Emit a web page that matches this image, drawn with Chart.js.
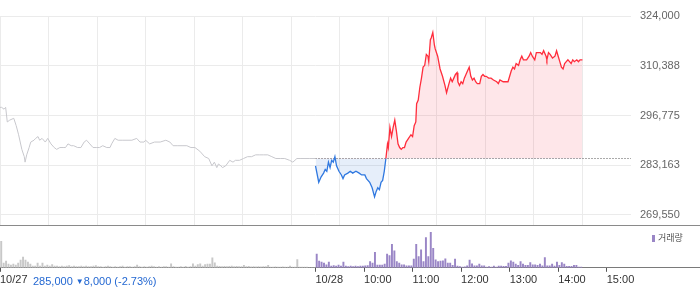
<!DOCTYPE html>
<html>
<head>
<meta charset="utf-8">
<script src="https://cdn.jsdelivr.net/npm/chart.js@4.4.1/dist/chart.umd.min.js"></script>
<style>
  html, body { margin: 0; padding: 0; background: #fff; }
  #wrap { position: relative; width: 700px; height: 289px; font-family: "Liberation Sans", Arial, sans-serif; }
  #priceBox { position: absolute; left: 0; top: 0; width: 700px; height: 225px; }
  #volBox { position: absolute; left: 0; top: 225px; width: 700px; height: 64px; border-top: 1px solid #8a8a8a; box-sizing: border-box; }
  #info { position: absolute; left: 33px; top: 275px; font-size: 11px; line-height: 13px; color: #2468d2; white-space: nowrap; }
  #info .tri { font-size: 8px; position: relative; top: -1px; }
  #legend { position: absolute; left: 652px; top: 233px; font-size: 9px; line-height: 10px; color: #555; font-family: "Noto Sans CJK KR", sans-serif; }
  #legend i { display: inline-block; width: 3px; height: 7px; background: #9a86c6; margin-right: 3px; vertical-align: -1px; }
</style>
</head>
<body>
<div id="wrap">
  <div id="priceBox"><canvas id="priceChart"></canvas></div>
  <div id="volBox"><canvas id="volumeChart"></canvas></div>
  <div id="info"></div>
  <div id="legend"><i></i>거래량</div>
</div>
<script>
// ---------- Data ----------
const prevClose = 285000;      // 10/27 close
const prevChange = -8000;
const prevChangePct = -2.73;

// price ticks on the right axis
const yTicks = [269550, 283163, 296775, 310388, 324000];

// bottom axis ticks (minutes after 10/27 09:00) and their labels
const tickMinutes = [0, 390, 450, 510, 570, 630, 690, 750];
const tickLabels = ['10/27', '10/28', '10:00', '11:00', '12:00', '13:00', '14:00', '15:00'];

// 10/27: minutes after 09:00 and price
const prevMinutes = [0, 2, 5, 7, 9, 12, 17, 20, 23, 27, 30, 31, 33, 36, 38, 42, 44, 47, 49, 52,
  56, 59, 63, 67, 70, 74, 78, 81, 84, 88, 91, 96, 100, 104, 107, 111, 115, 119, 123, 127,
  132, 136, 138, 142, 146, 151, 157, 163, 169, 173, 178, 180, 185, 191, 198, 205, 210, 214, 219, 225,
  231, 236, 241, 247, 253, 258, 262, 265, 268, 270, 273, 275, 279, 284, 288, 291, 296, 301, 306, 311,
  316, 321, 326, 331, 336, 341, 347, 352, 358, 362, 367, 372, 377, 383, 390];
const prevPrices = [299000, 299000, 298500, 299000, 295000, 295500, 296000, 294000, 291500, 287500,
  285500, 284000, 286000, 288000, 289500, 290000, 290500, 291000, 290000, 290500,
  289500, 290500, 289000, 288000, 287500, 288000, 288000, 288000, 289000, 288500,
  288500, 288000, 288000, 289500, 290000, 289000, 288000, 288000, 288000, 288500,
  288000, 288000, 289000, 290500, 290000, 290000, 290000, 290000, 290500, 289500,
  289500, 290000, 289000, 289500, 289500, 290000, 289500, 288500, 288500, 288500,
  288500, 288000, 288000, 287000, 285500, 285000, 283000, 284000, 282500, 283500,
  283000, 282500, 283000, 284500, 284000, 284500, 284500, 285000, 285500, 285500,
  286000, 286000, 286000, 286000, 285500, 285000, 285000, 285000, 284500, 284000,
  285000, 285000, 285000, 285000, 285000];

// 10/28: minutes after 09:00 and price
const todayMinutes = [0, 4, 7, 10, 12, 14, 16, 18, 20, 22, 24, 26, 29, 32, 34, 36, 40, 43, 46, 50,
  54, 57, 61, 63, 67, 70, 73, 75, 77, 79, 81, 83, 85, 87, 89, 90, 92, 94, 96, 98,
  100, 102, 104, 106, 108, 110, 112, 115, 118, 120, 122, 124, 125, 127, 129, 131, 133, 135, 137, 139,
  140, 142, 143, 145, 147, 148, 151, 154, 157, 160, 162, 165, 167, 169, 171, 173, 175, 176, 178, 180,
  182, 184, 186, 188, 190, 192, 194, 196, 198, 200, 203, 205, 207, 209, 211, 214, 217, 220, 224, 226,
  228, 232, 235, 238, 240, 242, 244, 246, 248, 251, 253, 255, 257, 261, 264, 266, 268, 271, 273, 276,
  278, 280, 282, 285, 286, 288, 290, 293, 296, 298, 300, 302, 304, 306, 308, 310, 312, 314, 316, 318,
  320, 323, 325, 327, 330];
const todayPrices = [283000, 278500, 280000, 281000, 282000, 281500, 284000, 282500, 284500, 284000,
  285500, 283000, 281500, 280500, 279500, 280500, 281000, 281500, 281000, 281500,
  281000, 280500, 280500, 279500, 278500, 277000, 274500, 276000, 277000, 276500,
  278500, 279000, 281500, 285000, 289000, 288000, 293500, 291000, 293500, 295500,
  292500, 289000, 288000, 287500, 288000, 288000, 289500, 290500, 291500, 291000,
  294000, 295000, 300000, 301000, 304500, 307000, 310000, 310500, 313500, 313000,
  311500, 317500, 318000, 319500, 316000, 315000, 313000, 309500, 307500, 305000,
  303000, 305500, 307000, 306000, 307000, 308000, 308500, 306000, 305000, 306000,
  305500, 307000, 308000, 309000, 310000, 307500, 306500, 307000, 306000, 305500,
  305500, 307500, 308000, 307500, 307500, 307000, 307000, 306500, 306000, 305500,
  306500, 306000, 306000, 306000, 307500, 309000, 310000, 309500, 311000, 310500,
  312000, 313000, 312000, 312000, 313000, 314000, 313000, 312000, 314000, 314000,
  314000, 313500, 314500, 313000, 312000, 314000, 313500, 312500, 313000, 314500,
  313000, 311500, 310000, 309500, 311000, 311500, 312000, 311500, 311000, 312000,
  311500, 312000, 311500, 312000, 312000];

// volume, thousand shares per 3-minute bin from 09:00
const prevVolume = [27, 5, 7, 4, 3, 4, 3, 5, 8, 11, 8, 6, 4, 2, 2, 5, 2, 5, 2, 3, 2, 3.5, 2,
  2, 1.5, 2, 1.5, 2, 2.5, 1.5, 2, 1.5, 1.5, 2, 1.5, 2, 1.5, 1.5, 2, 2.5, 1.5,
  1.5, 1, 1.5, 2, 1.5, 1, 1.5, 1, 1.5, 2, 1, 1.5, 1.5, 1, 1.5,
  3, 1.5, 1, 1.5, 1, 1.5, 2, 1.5, 1, 1.5, 1, 1.5, 1.5, 1,
  4.3, 1.5, 1, 1, 1.5, 1, 1.7, 1, 1.5,
  4.3, 2, 3.5, 4.3, 2, 3.5, 4, 4, 10.3, 5.3, 2,
  1.7, 1.5, 1.7, 1.5, 1.7, 2, 1.5, 1.7, 1.5, 1.5,
  2.7, 1.5, 1.7, 1.2, 1.5, 1.2, 1.5, 1.2, 1.5, 1.5,
  2.7, 1, 1, 1.2, 1, 1, 1.2, 1, 1,
  2, 1, 1, 8.7, 1, 1, 1, 1, 0.5, 0.5, 0.5];
const todayVolume = [14, 7, 6, 5, 3.3, 6, 2, 2.5, 2, 3,
  2, 6, 2, 1.5, 2, 1.5, 2, 1.5, 2, 2,
  2.3, 2.5, 6.7, 5, 16, 3, 3, 3, 4, 14,
  12.7, 24, 17.3, 6.7, 5, 3.3, 3.3, 2.3, 2.3, 2.3,
  9, 24, 11.7, 18.3, 6.7, 30.7, 11.7, 36, 20, 8.3,
  6.7, 7, 7.3, 9.3, 5, 5, 2.7, 9, 2, 1.5,
  1, 1.2, 2.3, 8, 4.3, 2.3, 2.3, 4, 2.3, 2.3,
  1, 1.5, 1, 2, 1, 2, 2, 1.7, 1.7, 5,
  7.3, 6, 4, 2.7, 6.7, 4, 2.7, 2.7, 5.7, 3.3,
  3.3, 2.7, 4, 2.3, 10.7, 2.3, 2.3, 4, 2, 6,
  2.7, 5.7, 4, 1.7, 1.7, 1.7, 2.7, 2.7, 1, 1];

const DAY_MINUTES = 390;   // 09:00 - 15:30
const BIN = 3;

Chart.defaults.font.family = '"Liberation Sans", Arial, sans-serif';

// ---------- Info text ----------
document.getElementById('info').innerHTML =
  prevClose.toLocaleString('en-US') + ' <span class="tri">' + (prevChange < 0 ? '▼' : '▲') + '</span>' +
  Math.abs(prevChange).toLocaleString('en-US') + ' (' + prevChangePct.toFixed(2) + '%)';

const toPoints = (mins, vals, offset) => mins.map((m, i) => ({ x: m + offset, y: vals[i] }));

// ---------- Price chart ----------
new Chart(document.getElementById('priceChart'), {
  type: 'line',
  data: {
    datasets: [
      {
        label: '10/27',
        data: toPoints(prevMinutes, prevPrices, 0),
        borderColor: '#c8c8cd',
        borderWidth: 1,
        pointRadius: 0,
        fill: false
      },
      {
        label: '10/28',
        data: toPoints(todayMinutes, todayPrices, DAY_MINUTES),
        borderColor: '#ff2d3c',
        borderWidth: 1.3,
        pointRadius: 0,
        segment: {
          borderColor: ctx => (ctx.p0.parsed.y + ctx.p1.parsed.y) / 2 >= prevClose ? '#ff2d3c' : '#2f78e0'
        },
        fill: {
          target: { value: prevClose },
          above: 'rgba(247, 80, 100, 0.14)',
          below: 'rgba(60, 120, 220, 0.13)'
        }
      },
      {
        label: 'prev close',
        data: [{ x: DAY_MINUTES, y: prevClose }, { x: DAY_MINUTES * 2, y: prevClose }],
        borderColor: '#555',
        borderWidth: 1,
        borderDash: [1, 2],
        pointRadius: 0,
        fill: false
      }
    ]
  },
  options: {
    responsive: true,
    maintainAspectRatio: false,
    animation: false,
    layout: { padding: { top: 16 } },
    plugins: { legend: { display: false }, tooltip: { enabled: false } },
    scales: {
      x: {
        type: 'linear',
        min: 0,
        max: DAY_MINUTES * 2,
        ticks: { display: false, stepSize: 60 },
        grid: {
          color: ctx => ctx.tick && ctx.tick.value >= DAY_MINUTES * 2 ? 'rgba(0,0,0,0)' : '#ebebeb',
          drawTicks: false
        },
        border: { display: false }
      },
      y: {
        position: 'right',
        min: 266800,
        max: 324000,
        afterBuildTicks: axis => { axis.ticks = yTicks.map(v => ({ value: v })); },
        afterFit: axis => { axis.width = 69; axis.paddingTop = 0; axis.paddingBottom = 0; },
        ticks: {
          padding: 9,
          color: '#666',
          font: { size: 11 },
          callback: v => v.toLocaleString('en-US')
        },
        grid: { color: '#ebebeb', drawTicks: false },
        border: { display: false }
      }
    }
  }
});

// ---------- Volume chart ----------
new Chart(document.getElementById('volumeChart'), {
  type: 'bar',
  data: {
    datasets: [
      {
        label: '10/27',
        data: prevVolume.map((v, i) => ({ x: i * BIN + BIN / 2, y: v })),
        backgroundColor: '#c8c8c8'
      },
      {
        label: '거래량',
        data: todayVolume.map((v, i) => ({ x: DAY_MINUTES + i * BIN + BIN / 2, y: v })),
        backgroundColor: '#9a86c6'
      }
    ]
  },
  options: {
    responsive: true,
    maintainAspectRatio: false,
    animation: false,
    layout: { padding: { top: 2 } },
    datasets: { bar: { grouped: false, barPercentage: 0.8, categoryPercentage: 1 } },
    plugins: { legend: { display: false }, tooltip: { enabled: false } },
    scales: {
      x: {
        type: 'linear',
        offset: false,
        min: 0,
        max: DAY_MINUTES * 2 * 700 / 631,   // same minute width as the price panel
        afterBuildTicks: axis => { axis.ticks = tickMinutes.map(v => ({ value: v })); },
        afterFit: axis => { axis.paddingLeft = 0; axis.paddingRight = 0; },
        ticks: {
          align: 'start',
          padding: 2,
          color: '#333',
          font: { size: 11 },
          maxRotation: 0,
          autoSkip: false,
          callback: v => tickLabels[tickMinutes.indexOf(v)]
        },
        grid: { offset: false, drawOnChartArea: false, tickLength: 4, color: '#555' },
        border: { color: '#7a7a7a' }
      },
      y: { display: false, min: 0, max: 40 }
    }
  }
});
</script>
</body>
</html>
